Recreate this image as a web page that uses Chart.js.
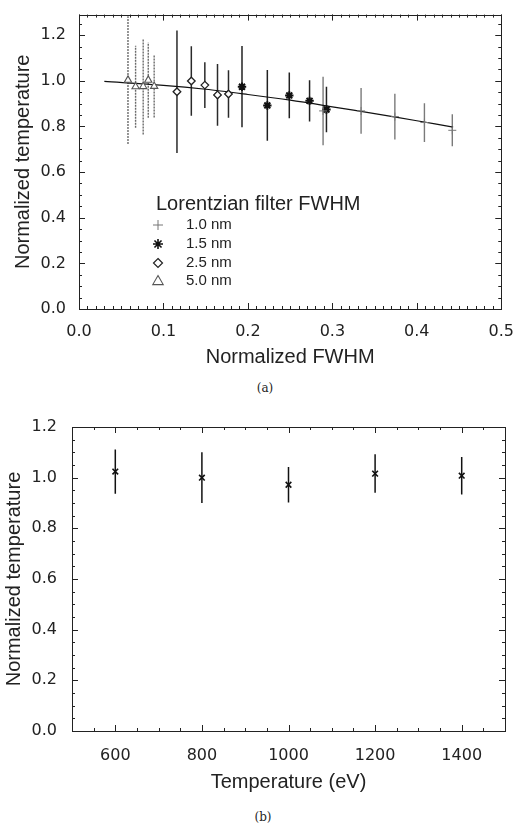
<!DOCTYPE html>
<html>
<head>
<meta charset="utf-8">
<script src="https://cdn.jsdelivr.net/npm/chart.js@4/dist/chart.umd.min.js"></script>
<style>
  html, body { margin: 0; padding: 0; background: #fff; }
  body { width: 519px; height: 825px; position: relative; overflow: hidden; }
  canvas { position: absolute; left: 0; }
  #cA { top: 0; }
  #cB { top: 410px; }
  .cap { position: absolute; font-family: "DejaVu Serif", "Liberation Serif", serif; font-size: 12px; color: #222; transform: translate(-50%, -50%); }
</style>
</head>
<body>
<canvas id="cA" width="519" height="372"></canvas>
<canvas id="cB" width="519" height="387"></canvas>
<div class="cap" style="left:265px; top:388px;">(a)</div>
<div class="cap" style="left:263px; top:817px;">(b)</div>
<script>
// ---------- Panel (a) data ----------
const fwhmPlus   = [0.289, 0.334, 0.374, 0.409, 0.442];   // 1.0 nm
const tempPlus   = [0.868, 0.868, 0.843, 0.817, 0.783];
const errPlus    = [0.150, 0.100, 0.100, 0.085, 0.070];

const fwhmStar   = [0.193, 0.223, 0.249, 0.273, 0.293];   // 1.5 nm
const tempStar   = [0.974, 0.892, 0.936, 0.912, 0.874];
const errStar    = [0.178, 0.155, 0.100, 0.090, 0.100];

const fwhmDiam   = [0.116, 0.133, 0.149, 0.164, 0.177];   // 2.5 nm
const tempDiam   = [0.952, 0.999, 0.981, 0.938, 0.942];
const errDiam    = [0.268, 0.152, 0.100, 0.135, 0.104];

const fwhmTri    = [0.058, 0.067, 0.076, 0.082, 0.089];   // 5.0 nm
const tempTri    = [1.003, 0.974, 0.975, 1.003, 0.976];
const errTri     = [0.280, 0.180, 0.210, 0.165, 0.137];

const fitX       = [0.030, 0.100, 0.150, 0.200, 0.250, 0.300, 0.350, 0.400, 0.443];
const fitY       = [0.997, 0.980, 0.963, 0.940, 0.915, 0.886, 0.856, 0.825, 0.797];

const legendTitle  = "Lorentzian filter FWHM";
const legendLabels = ["1.0 nm", "1.5 nm", "2.5 nm", "5.0 nm"];

const ticksAX = [0.0, 0.1, 0.2, 0.3, 0.4, 0.5];
const ticksAY = [0.0, 0.2, 0.4, 0.6, 0.8, 1.0, 1.2];

// ---------- Panel (b) data ----------
const tempEV   = [600, 800, 1000, 1200, 1400];
const normT    = [1.024, 1.000, 0.972, 1.016, 1.008];
const errT     = [0.087, 0.100, 0.070, 0.076, 0.074];

const ticksBX = [600, 800, 1000, 1200, 1400];
const ticksBY = [0.0, 0.2, 0.4, 0.6, 0.8, 1.0, 1.2];

// ---------- helpers ----------
function pts(xs, ys) { return xs.map((x, i) => ({x: x, y: ys[i]})); }
function errBars(xs, ys, es) {
  const out = [];
  xs.forEach((x, i) => {
    out.push({x: x, y: ys[i] - es[i]});
    out.push({x: x, y: ys[i] + es[i]});
    out.push({x: x, y: null});
  });
  return out;
}

const TICK_FONT = {family: "DejaVu Sans", size: 16};
const TITLE_FONT = {family: "Liberation Sans", size: 20};
const INK = "#222";

// inward ticks & frame on all four sides
const frameTicks = {
  id: 'frameTicks',
  afterDraw(chart, args, o) {
    const ctx = chart.ctx, a = chart.chartArea;
    const xs = chart.scales.x, ys = chart.scales.y;
    ctx.save();
    ctx.strokeStyle = INK;
    ctx.lineWidth = 1;
    ctx.beginPath();
    const majLen = 6, minLen = 3;
    function each(min, max, step, fn) {
      const s = Math.ceil(min / step - 1e-6);
      const e = Math.floor(max / step + 1e-6);
      for (let k = s; k <= e; k++) fn(k * step);
    }
    each(xs.min, xs.max, o.xMinor, v => {
      const p = Math.round(xs.getPixelForValue(v)) + 0.5;
      ctx.moveTo(p, a.bottom); ctx.lineTo(p, a.bottom - minLen);
      ctx.moveTo(p, a.top); ctx.lineTo(p, a.top + minLen);
    });
    each(xs.min, xs.max, o.xMajor, v => {
      const p = Math.round(xs.getPixelForValue(v)) + 0.5;
      ctx.moveTo(p, a.bottom); ctx.lineTo(p, a.bottom - majLen);
      ctx.moveTo(p, a.top); ctx.lineTo(p, a.top + majLen);
    });
    each(ys.min, ys.max, o.yMinor, v => {
      const p = Math.round(ys.getPixelForValue(v)) + 0.5;
      ctx.moveTo(a.left, p); ctx.lineTo(a.left + minLen, p);
      ctx.moveTo(a.right, p); ctx.lineTo(a.right - minLen, p);
    });
    each(ys.min, ys.max, o.yMajor, v => {
      const p = Math.round(ys.getPixelForValue(v)) + 0.5;
      ctx.moveTo(a.left, p); ctx.lineTo(a.left + majLen, p);
      ctx.moveTo(a.right, p); ctx.lineTo(a.right - majLen, p);
    });
    ctx.stroke();
    ctx.strokeRect(Math.round(a.left) + 0.5, Math.round(a.top) + 0.5,
                   Math.round(a.right - a.left), Math.round(a.bottom - a.top));
    ctx.restore();
  }
};

function drawSymbol(ctx, style, x, y, r, color, fill, lw) {
  ctx.save();
  ctx.strokeStyle = color; ctx.fillStyle = fill; ctx.lineWidth = lw;
  ctx.beginPath();
  if (style === 'cross') {
    ctx.moveTo(x - r, y); ctx.lineTo(x + r, y);
    ctx.moveTo(x, y - r); ctx.lineTo(x, y + r);
    ctx.stroke();
  } else if (style === 'star') {
    ctx.moveTo(x - r, y); ctx.lineTo(x + r, y);
    ctx.moveTo(x, y - r); ctx.lineTo(x, y + r);
    const d = r * 0.7071;
    ctx.moveTo(x - d, y - d); ctx.lineTo(x + d, y + d);
    ctx.moveTo(x - d, y + d); ctx.lineTo(x + d, y - d);
    ctx.stroke();
  } else if (style === 'rectRot') {
    ctx.moveTo(x, y - r); ctx.lineTo(x + r, y); ctx.lineTo(x, y + r); ctx.lineTo(x - r, y);
    ctx.closePath(); ctx.fill(); ctx.stroke();
  } else if (style === 'triangle') {
    ctx.moveTo(x, y - r); ctx.lineTo(x + r * 0.95, y + r * 0.65); ctx.lineTo(x - r * 0.95, y + r * 0.65);
    ctx.closePath(); ctx.fill(); ctx.stroke();
  }
  ctx.restore();
}

const legendA = {
  id: 'legendA',
  afterDraw(chart) {
    const ctx = chart.ctx;
    ctx.save();
    ctx.fillStyle = INK;
    ctx.textBaseline = 'middle';
    ctx.textAlign = 'left';
    ctx.font = '20px "Liberation Sans"';
    ctx.fillText(legendTitle, 156, 204);
    ctx.font = '15px "Liberation Sans"';
    const rows = [225, 244, 263, 281];
    const syms = [
      ['cross', 5, '#777', '#fff', 1],
      ['star', 5, '#111', '#fff', 1.6],
      ['rectRot', 4.5, '#222', '#fff', 1.2],
      ['triangle', 5.5, '#555', '#fff', 1.1]
    ];
    legendLabels.forEach((t, i) => {
      ctx.fillStyle = INK;
      ctx.fillText(t, 186, rows[i]);
      const s = syms[i];
      drawSymbol(ctx, s[0], 158, rows[i], s[1], s[2], s[3], s[4]);
    });
    ctx.restore();
  }
};

function fixedTicks(list) {
  return function(scale) { scale.ticks = list.map(v => ({value: v})); };
}

// ---------- Chart (a) ----------
new Chart(document.getElementById('cA'), {
  type: 'scatter',
  data: {
    datasets: [
      {label: '1.0 nm', data: pts(fwhmPlus, tempPlus), pointStyle: 'cross', pointRadius: 4,
       borderColor: '#777', backgroundColor: '#777', pointBorderWidth: 1, order: 0},
      {label: '1.5 nm', data: pts(fwhmStar, tempStar), pointStyle: 'star', pointRadius: 4.2,
       borderColor: '#111', backgroundColor: '#111', pointBorderWidth: 2, order: 0},
      {label: '2.5 nm', data: pts(fwhmDiam, tempDiam), pointStyle: 'rectRot', pointRadius: 3.8,
       borderColor: '#222', backgroundColor: '#fff', pointBorderWidth: 1.3, order: 0},
      {label: '5.0 nm', data: pts(fwhmTri, tempTri), pointStyle: 'triangle', pointRadius: 4.2,
       borderColor: '#555', backgroundColor: '#fff', pointBorderWidth: 1.1, order: 0},
      {label: 'fit', data: pts(fitX, fitY), showLine: true, pointRadius: 0, borderColor: '#111',
       borderWidth: 1.2, tension: 0.3, order: 1},
      {label: 'e1', data: errBars(fwhmPlus, tempPlus, errPlus), showLine: true, pointRadius: 0,
       borderColor: '#7a7a7a', borderWidth: 1.4, spanGaps: false, order: 2},
      {label: 'e2', data: errBars(fwhmStar, tempStar, errStar), showLine: true, pointRadius: 0,
       borderColor: '#222', borderWidth: 1.5, spanGaps: false, order: 2},
      {label: 'e3', data: errBars(fwhmDiam, tempDiam, errDiam), showLine: true, pointRadius: 0,
       borderColor: '#2a2a2a', borderWidth: 1.5, spanGaps: false, order: 2},
      {label: 'e4', data: errBars(fwhmTri, tempTri, errTri), showLine: true, pointRadius: 0,
       borderColor: '#6a6a6a', borderWidth: 1.4, borderDash: [2, 1], spanGaps: false, order: 2}
    ]
  },
  options: {
    responsive: false, animation: false, devicePixelRatio: 1,
    layout: {padding: {left: 0, right: 15, top: 12, bottom: 0}},
    plugins: {legend: {display: false}, tooltip: {enabled: false},
      frameTicks: {xMajor: 0.1, xMinor: 0.01, yMajor: 0.2, yMinor: 0.05}},
    scales: {
      x: {type: 'linear', min: 0, max: 0.5, offset: false,
          grid: {display: false}, border: {display: false},
          afterBuildTicks: fixedTicks(ticksAX),
          afterFit: s => { s.height = 372 - 309; },
          ticks: {font: TICK_FONT, color: INK, padding: 5, maxRotation: 0,
                  callback: v => v.toFixed(1)},
          title: {display: true, text: 'Normalized FWHM', font: TITLE_FONT, color: INK,
                  padding: {top: 0, bottom: 3}}},
      y: {type: 'linear', min: 0, max: 1.29,
          grid: {display: false}, border: {display: false},
          afterBuildTicks: fixedTicks(ticksAY),
          afterFit: s => { s.width = 79; },
          ticks: {font: TICK_FONT, color: INK, padding: 5, callback: v => v.toFixed(1)},
          title: {display: true, text: 'Normalized temperature', font: TITLE_FONT, color: INK,
                  padding: {top: 11, bottom: 0}}}
    }
  },
  plugins: [frameTicks, legendA]
});

// ---------- Chart (b) ----------
new Chart(document.getElementById('cB'), {
  type: 'scatter',
  data: {
    datasets: [
      {label: 'T', data: pts(tempEV, normT), pointStyle: 'crossRot', pointRadius: 4,
       borderColor: '#111', backgroundColor: '#111', pointBorderWidth: 1.6, order: 0},
      {label: 'err', data: errBars(tempEV, normT, errT), showLine: true, pointRadius: 0,
       borderColor: '#111', borderWidth: 1.5, spanGaps: false, order: 1}
    ]
  },
  options: {
    responsive: false, animation: false, devicePixelRatio: 1,
    layout: {padding: {left: 0, right: 14, top: 17, bottom: 0}},
    plugins: {legend: {display: false}, tooltip: {enabled: false},
      frameTicks: {xMajor: 200, xMinor: 50, yMajor: 0.2, yMinor: 0.05}},
    scales: {
      x: {type: 'linear', min: 500, max: 1500, offset: false,
          grid: {display: false}, border: {display: false},
          afterBuildTicks: fixedTicks(ticksBX),
          afterFit: s => { s.height = 387 - 321; },
          ticks: {font: TICK_FONT, color: INK, padding: 7, maxRotation: 0,
                  callback: v => String(v)},
          title: {display: true, text: 'Temperature (eV)', font: TITLE_FONT, color: INK,
                  padding: {top: 0, bottom: 3}}},
      y: {type: 'linear', min: 0, max: 1.2,
          grid: {display: false}, border: {display: false},
          afterBuildTicks: fixedTicks(ticksBY),
          afterFit: s => { s.width = 72; },
          ticks: {font: TICK_FONT, color: INK, padding: 7, callback: v => v.toFixed(1)},
          title: {display: true, text: 'Normalized temperature', font: TITLE_FONT, color: INK,
                  padding: {top: 2, bottom: 0}}}
    }
  },
  plugins: [frameTicks]
});
</script>
</body>
</html>
